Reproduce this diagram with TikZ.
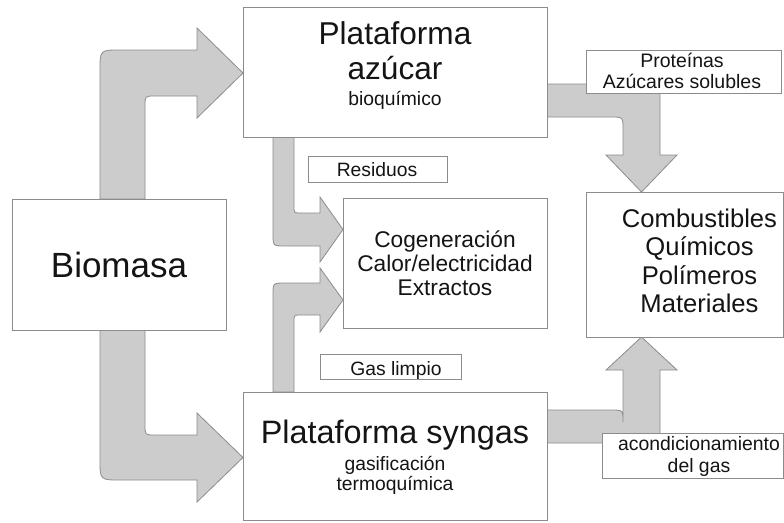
\documentclass[tikz,border=0pt]{standalone}
\usepackage{fontspec}
\setmainfont{Liberation Sans}
\usetikzlibrary{backgrounds}

\definecolor{arrowfill}{HTML}{CCCCCC}
\definecolor{arrowline}{HTML}{8C8C8C}
\definecolor{boxline}{HTML}{8C8C8C}
\definecolor{ink}{HTML}{141414}

\newcommand\fsz[2]{\fontsize{#1}{#2}\selectfont}

\tikzset{
  box/.style={draw=boxline, line width=1pt, fill=white, rectangle,
              inner sep=0pt, outer sep=0pt, anchor=north west},
  % multi-line texts are placed by the baseline of their last line
  txt/.style={anchor=base, align=center, inner sep=0pt, text=ink},
  flow/.style={fill=arrowfill, draw=arrowline, line width=0.8pt, line join=miter},
}

\begin{document}
\begin{tikzpicture}[x=1pt, y=-1pt]
\useasboundingbox (0,0) rectangle (784,522);

% main boxes
\node[box, minimum width=213.5pt, minimum height=131pt] (bio) at (12.5,199) {};
\node[box, minimum width=304pt, minimum height=130pt] (azu) at (243,7) {};
\node[box, minimum width=204pt, minimum height=130pt] (cog) at (343,198) {};
\node[box, minimum width=197pt, minimum height=145pt] (com) at (586,192) {};
\node[box, minimum width=304pt, minimum height=128pt] (syn) at (243,392) {};

% label boxes
\node[box, minimum width=195pt, minimum height=43pt] (pro) at (586,50) {};
\node[box, minimum width=139pt, minimum height=26pt] (res) at (308,156) {};
\node[box, minimum width=141pt, minimum height=25pt] (gas) at (320,354) {};
\node[box, minimum width=181pt, minimum height=45pt] (aco) at (602,433) {};

% texts
\node[txt, font=\fsz{35}{40}] (bioT) at (119,277) {Biomasa};
\node[txt, font=\fsz{31.6}{35}] (azuT) at (395,79) {Plataforma\\azúcar};
\node[txt, font=\fsz{19.3}{21}] (azuS) at (395,105) {bioquímico};
\node[txt, font=\fsz{22.7}{24}] (cogT) at (445,295) {Cogeneración\\Calor/electricidad\\Extractos};
\node[txt, font=\fsz{25.6}{28.3}] (comT) at (699.5,312.4) {Combustibles\\Químicos\\Polímeros\\Materiales};
\node[txt, font=\fsz{19.5}{21}] (proT) at (682,88) {Proteínas\\Azúcares solubles};
\node[txt, font=\fsz{19.3}{21}] (resT) at (377,176) {Residuos};
\node[txt, font=\fsz{19.3}{21}] (gasT) at (396,375) {Gas limpio};
\node[txt, font=\fsz{32.4}{36}] (synT) at (395,443) {Plataforma syngas};
\node[txt, font=\fsz{19.3}{20.5}] (synS) at (395,490.5) {gasificación\\termoquímica};
\node[txt, font=\fsz{19.4}{22}] (acoT) at (699,472) {acondicionamiento\\del gas};

% block arrows behind the boxes
\begin{scope}[on background layer]
  % Biomasa -> Plataforma azucar
  \draw[flow] (100,0 |- bio.north) -- (100,70) .. controls (100,50) .. (120,50)
    -- (197,50) -- (197,28) -- (azu.west |- 0,73) -- (197,118) -- (197,96)
    -- (155,96) .. controls (145,96) .. (145,106) -- (145,0 |- bio.north) -- cycle;
  % Biomasa -> Plataforma syngas
  \draw[flow] (100,0 |- bio.south) -- (100,460) .. controls (100,480) .. (120,480)
    -- (197,480) -- (197,502) -- (syn.west |- 0,457.5) -- (197,413) -- (197,435)
    -- (155,435) .. controls (145,435) .. (145,425) -- (145,0 |- bio.south) -- cycle;
  % Plataforma azucar -> Cogeneracion (residuos)
  \draw[flow] (273,0 |- azu.south) -- (273,234) .. controls (273,246) .. (285,246)
    -- (320,246) -- (320,262) -- (cog.west |- 0,229.5) -- (320,197) -- (320,213)
    -- (301,213) .. controls (294,213) .. (294,206) -- (294,0 |- azu.south) -- cycle;
  % Plataforma syngas -> Cogeneracion (gas limpio)
  \draw[flow] (273,0 |- syn.north) -- (273,295) .. controls (273,283) .. (285,283)
    -- (320,283) -- (320,268) -- (cog.west |- 0,300) -- (320,332) -- (320,315)
    -- (301,315) .. controls (294,315) .. (294,322) -- (294,0 |- syn.north) -- cycle;
  % Plataforma azucar -> Combustibles
  \draw[flow] (azu.east |- 0,84) -- (645,84) .. controls (660,84) .. (660,99)
    -- (660,155) -- (677,155) -- (641.5,0 |- com.north) -- (606,155) -- (623,155)
    -- (623,129) .. controls (623,117) .. (611,117) -- (azu.east |- 0,117) -- cycle;
  % Plataforma syngas -> Combustibles
  \draw[flow] (syn.east |- 0,443) -- (645,443) .. controls (660,443) .. (660,428)
    -- (660,370) -- (677,370) -- (641.5,0 |- com.south) -- (606,370) -- (623,370)
    -- (623,422) .. controls (623,410) .. (611,410) -- (syn.east |- 0,410) -- cycle;
\end{scope}
\end{tikzpicture}
\end{document}
